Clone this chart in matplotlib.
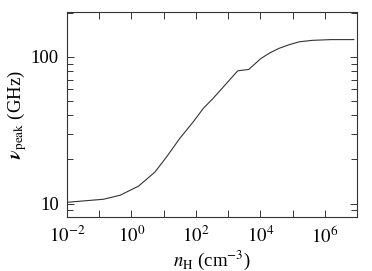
import numpy as np
import matplotlib
matplotlib.use("Agg")
import matplotlib.pyplot as plt
from matplotlib.ticker import FixedLocator, NullFormatter, LogLocator

# values
log_nH = [-2.0, -0.87, -0.35, 0.22, 0.73, 1.09, 1.5, 1.92, 2.23, 2.53,
          3.3, 3.64, 4.02, 4.3, 4.57, 4.9, 5.21, 5.62, 6.2, 6.9]
nu_peak = [10.2, 10.7, 11.4, 13.15, 16.4, 20.8, 27.8, 36.1, 44.5, 52.0,
           80.3, 82.0, 97.5, 106.5, 114.0, 121.0, 126.6, 129.5, 131.0, 131.0]
x_ticks = [1e-2, 1e0, 1e2, 1e4, 1e6]
x_ticklabels = [r"$10^{-2}$", r"$10^{0}$", r"$10^{2}$", r"$10^{4}$", r"$10^{6}$"]
y_ticks = [10, 100]
y_ticklabels = ["10", "100"]

plt.rcParams["font.family"] = ["Liberation Serif", "DejaVu Serif"]
plt.rcParams["mathtext.fontset"] = "stix"

fig = plt.figure(figsize=(3.72, 2.71), dpi=100)
ax = fig.add_axes([67 / 372, 1 - 217 / 271, 290 / 372, 205 / 271])

ax.plot(10 ** np.array(log_nH), nu_peak, color="#333333", lw=0.8)

ax.set_xscale("log")
ax.set_yscale("log")
ax.set_xlim(1e-2, 1e7)
ax.set_ylim(8.1, 202)

ax.xaxis.set_major_locator(FixedLocator(x_ticks))
ax.set_xticklabels(x_ticklabels)
ax.xaxis.set_minor_locator(FixedLocator([1e-1, 1e1, 1e3, 1e5]))
ax.xaxis.set_minor_formatter(NullFormatter())
ax.yaxis.set_major_locator(FixedLocator(y_ticks))
ax.set_yticklabels(y_ticklabels)
ax.yaxis.set_minor_locator(LogLocator(base=10, subs=np.arange(2, 10), numticks=10))
ax.yaxis.set_minor_formatter(NullFormatter())

ax.tick_params(which="both", direction="in", top=True, right=True,
               labelsize=13.5, colors="#333333", labelcolor="black", width=0.7)
ax.tick_params(which="major", length=5, pad=6)
ax.tick_params(which="minor", length=4)
ax.tick_params(axis="x", which="minor", length=5)
for s in ax.spines.values():
    s.set_color("#333333")
    s.set_linewidth(0.8)

ax.set_xlabel(r"$n_{\mathrm{H}}$ (cm$^{-3}$)", fontsize=13.5, labelpad=1)
ax.set_ylabel(r"$\boldsymbol{\nu}_{\mathrm{peak}}$ (GHz)", fontsize=13.5, labelpad=1)

fig.savefig("out.png", dpi=100)
